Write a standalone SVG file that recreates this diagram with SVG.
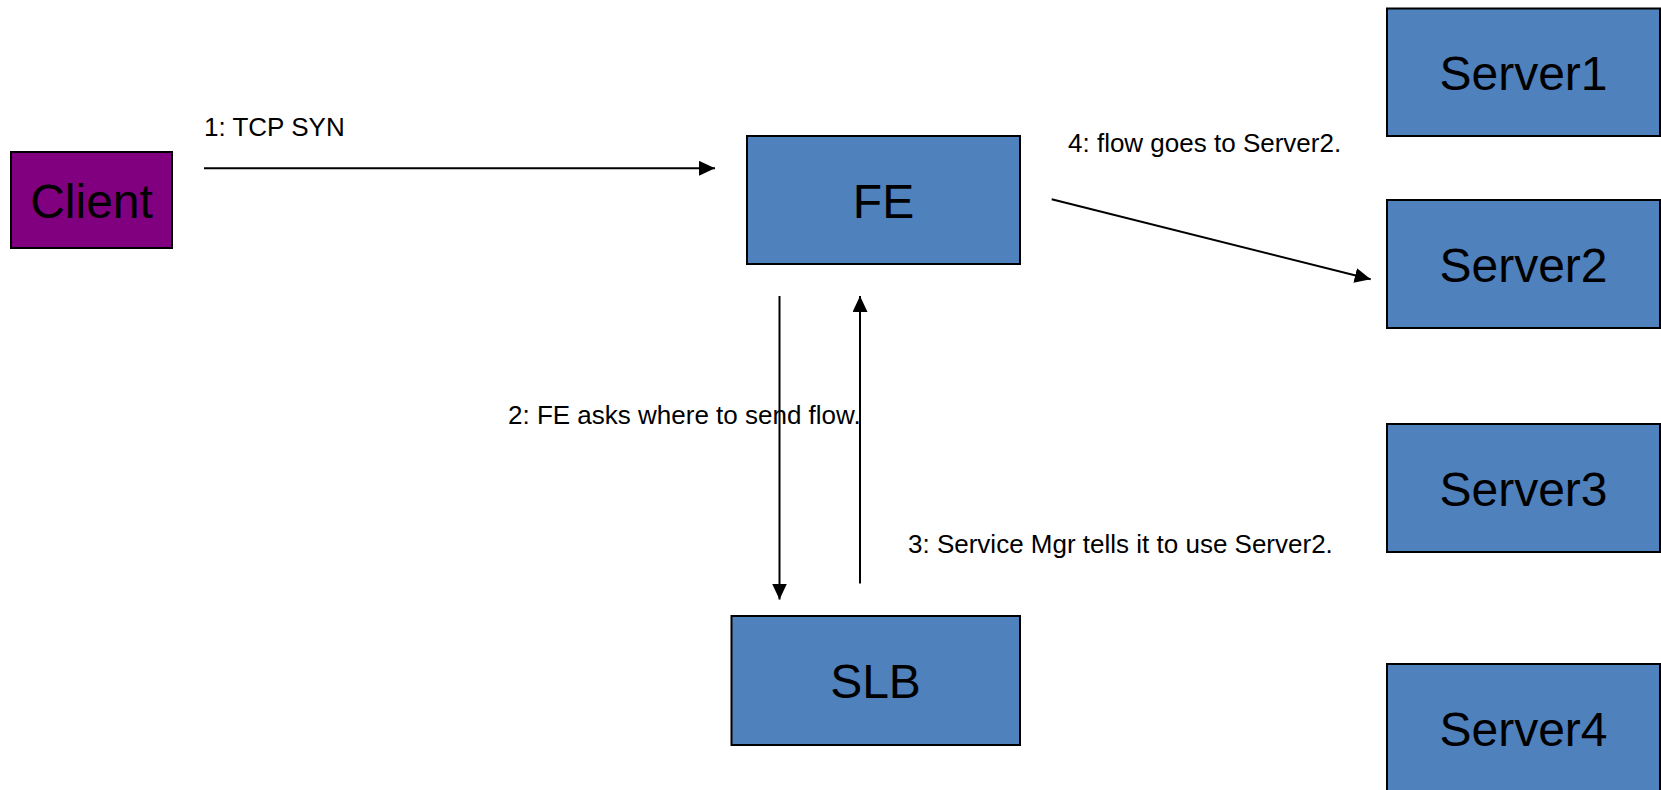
<svg xmlns="http://www.w3.org/2000/svg" width="1661" height="790" viewBox="0 0 1661 790">
<style>
.box{fill:#4F81BD;stroke:#000;stroke-width:2}
.client{fill:#800080;stroke:#000;stroke-width:2}
.nt{font-family:"Liberation Sans",Arial,sans-serif;font-size:48px;fill:#000;text-anchor:middle}
.lt{font-family:"Liberation Sans",Arial,sans-serif;font-size:26px;fill:#000}
.conn{stroke:#000;stroke-width:2;fill:none;marker-end:url(#ah)}
</style>
<defs>
<marker id="ah" markerUnits="userSpaceOnUse" markerWidth="16" markerHeight="15" refX="16" refY="7.5" orient="auto">
<path d="M0,0 L16,7.5 L0,15 z" fill="#000"/>
</marker>
</defs>
<rect width="1661" height="790" fill="#fff"/>
<g id="client"><rect class="client" x="11" y="152" width="161" height="96"/><text class="nt" x="91.5" y="217.5">Client</text></g>
<g id="fe"><rect class="box" x="747" y="136" width="273" height="128"/><text class="nt" x="883.5" y="217.5">FE</text></g>
<g id="slb"><rect class="box" x="731.5" y="616" width="288.5" height="129"/><text class="nt" x="875.5" y="697.5">SLB</text></g>
<g id="server1"><rect class="box" x="1387" y="8.5" width="273" height="127.5"/><text class="nt" x="1523.5" y="89.5">Server1</text></g>
<g id="server2"><rect class="box" x="1387" y="200" width="273" height="128"/><text class="nt" x="1523.5" y="281.5">Server2</text></g>
<g id="server3"><rect class="box" x="1387" y="424" width="273" height="128"/><text class="nt" x="1523.5" y="505.5">Server3</text></g>
<g id="server4"><rect class="box" x="1387" y="664" width="273" height="128"/><text class="nt" x="1523.5" y="745.5">Server4</text></g>
<g id="connectors">
<line class="conn" x1="204" y1="168.3" x2="715" y2="168.3"/>
<line class="conn" x1="779.5" y1="296" x2="779.5" y2="599.5"/>
<line class="conn" x1="860" y1="583.5" x2="860" y2="296"/>
<line class="conn" x1="1051.7" y1="199.3" x2="1370.7" y2="279.3"/>
</g>
<g id="labels">
<text class="lt" x="204" y="136">1: TCP SYN</text>
<text class="lt" x="508" y="424.3">2: FE asks where to send flow.</text>
<text class="lt" x="908" y="553.3">3: Service Mgr tells it to use Server2.</text>
<text class="lt" x="1068" y="151.7">4: flow goes to Server2.</text>
</g>
</svg>
